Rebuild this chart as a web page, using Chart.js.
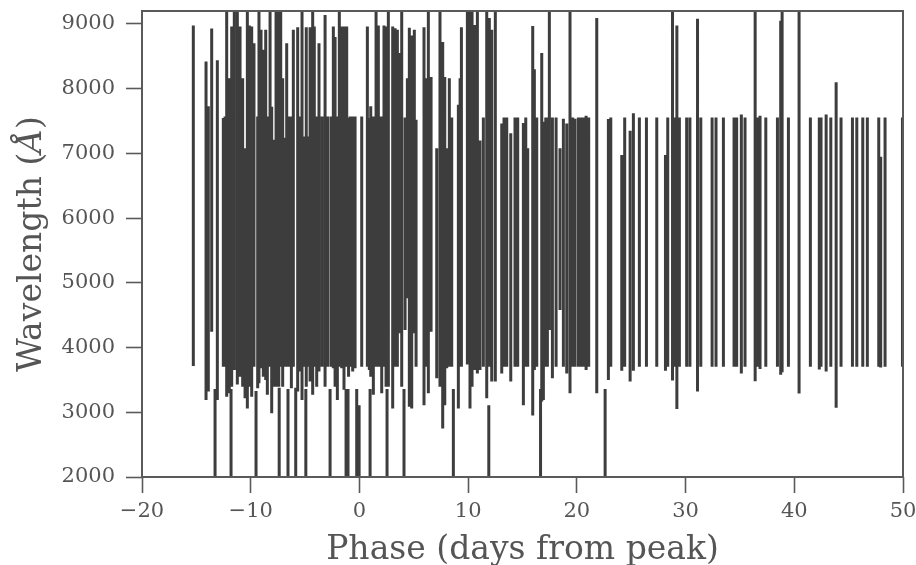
<!DOCTYPE html>
<html>
<head>
<meta charset="utf-8">
<title>Cobertura espectral</title>
<script src="https://cdn.jsdelivr.net/npm/chart.js@4.4.1/dist/chart.umd.min.js"></script>
<style>
  html, body { margin: 0; padding: 0; background: #ffffff; }
  canvas { display: block; }
</style>
</head>
<body>
<canvas id="grafica" width="916" height="565"></canvas>
<script>
// Fase de cada espectro (días desde el máximo)
var fases = [
  -15.28, -14.11, -13.90, -13.59, -13.28, -13.07, -12.52, -12.36, -12.21, -11.97,
  -11.81, -11.75, -11.51, -11.23, -10.98, -10.74, -10.52, -10.31, -10.13, -9.91,
  -9.70, -9.51, -9.36, -9.24, -9.05, -8.84, -8.62, -8.47, -8.22, -8.07,
  -7.86, -7.67, -7.42, -7.38, -7.24, -7.06, -6.94, -6.69, -6.57, -6.45,
  -6.26, -6.08, -5.86, -5.68, -5.46, -5.28, -5.16, -4.93, -4.89, -4.70,
  -4.54, -4.30, -4.15, -3.93, -3.72, -3.44, -3.16, -2.92, -2.70, -2.61,
  -2.40, -2.24, -2.03, -1.85, -1.63, -1.42, -1.23, -1.17, -1.05, -1.00,
  -0.86, -0.62, -0.40, -0.25, -0.03, 0.21, 0.73, 0.91, 0.98, 1.04,
  1.28, 1.53, 1.74, 1.90, 2.05, 2.26, 2.45, 2.54, 2.66, 3.06,
  3.28, 3.49, 3.74, 3.89, 4.10, 4.20, 4.41, 4.59, 4.81, 5.05,
  5.21, 5.94, 6.13, 6.34, 6.59, 7.11, 7.41, 7.66, 7.85, 8.03,
  8.27, 8.49, 8.64, 9.10, 9.26, 9.38, 9.93, 10.17, 10.36, 10.63,
  10.85, 11.09, 11.40, 11.71, 11.90, 11.95, 12.17, 12.50, 13.09, 13.30,
  13.55, 13.92, 14.31, 14.56, 15.08, 15.30, 15.48, 15.94, 16.09, 16.31,
  16.66, 16.77, 16.92, 17.14, 17.29, 17.47, 17.75, 18.09, 18.45, 18.76,
  19.07, 19.37, 19.62, 19.83, 20.14, 20.39, 20.60, 20.85, 21.09, 21.83,
  22.60, 22.90, 23.12, 24.13, 24.40, 24.90, 25.20, 25.75, 26.40, 27.35,
  28.15, 28.36, 28.80, 29.07, 29.20, 29.43, 30.10, 30.40, 31.10, 31.40,
  32.44, 32.80, 33.48, 34.46, 34.70, 35.13, 35.47, 36.40, 36.58, 36.85,
  37.38, 38.45, 38.75, 38.88, 39.46, 40.44, 41.48, 42.30, 42.46, 42.93,
  43.36, 43.85, 44.30, 45.35, 45.75, 46.30, 46.72, 47.77, 47.95, 48.35, 49.95
];

// Longitud de onda mínima de cada espectro (Å)
var longMin = [
  3715, 3190, 3320, 4245, 1600, 3190, 3705, 3705, 3240, 3295,
  1600, 3395, 3655, 3430, 3550, 3395, 3215, 3060, 3395, 3240,
  3705, 1600, 3370, 3450, 3680, 3550, 3500, 3270, 3705, 2985,
  3395, 3395, 3395, 1600, 3705, 3395, 3705, 3705, 1600, 3705,
  3370, 3705, 1600, 3320, 3630, 3190, 3705, 1600, 3395, 3705,
  3475, 3270, 3705, 3395, 3630, 3705, 3395, 3705, 1600, 3705,
  3680, 3395, 3190, 3705, 3680, 3350, 1600, 3705, 1600, 3550,
  3705, 3630, 3680, 1600, 1600, 3705, 3705, 3655, 1600, 3550,
  3270, 3705, 3705, 3705, 3295, 3705, 3395, 1600, 3395, 3060,
  3705, 3705, 4220, 3395, 1600, 4270, 4760, 3085, 3060, 4220,
  3705, 3110, 3705, 3295, 4245, 3525, 3395, 2750, 3110, 3680,
  3705, 3705, 1600, 3060, 3705, 3705, 3740, 3060, 3395, 3655,
  3600, 3655, 3705, 3215, 1600, 3705, 3475, 3475, 3600, 3705,
  3705, 3475, 3705, 3705, 3110, 3705, 3705, 2950, 3655, 3705,
  1600, 3165, 3190, 3705, 3705, 4270, 3525, 3705, 4580, 3705,
  3600, 3295, 3705, 3705, 3705, 3705, 3705, 3655, 3705, 3295,
  1600, 3500, 3705, 3640, 3705, 3475, 3640, 3705, 3705, 3705,
  3640, 3705, 3490, 3705, 3050, 3705, 3705, 3705, 3320, 3705,
  3705, 3705, 3705, 3705, 3705, 3600, 3705, 3480, 3705, 3670,
  3705, 3705, 3580, 3620, 3705, 3290, 3705, 3660, 3705, 3630,
  3705, 3070, 3705, 3705, 3705, 3705, 3705, 3705, 3690, 3705, 3705
];

// Longitud de onda máxima de cada espectro (Å)
var longMax = [
  8975, 8420, 7730, 8930, 3360, 8440, 7545, 7570, 9800, 8160,
  3360, 8960, 9800, 9800, 8960, 8160, 7080, 9800, 8975, 8960,
  8700, 3330, 7570, 9800, 8910, 8600, 8910, 7570, 9800, 7720,
  7210, 9800, 9800, 3380, 9800, 8160, 7240, 8700, 3360, 7570,
  7570, 8910, 3380, 8950, 7570, 9800, 7260, 3360, 8950, 7260,
  8950, 9800, 8960, 7570, 8700, 7570, 9140, 7570, 3360, 7570,
  8960, 8800, 7570, 9800, 8960, 8960, 3360, 8960, 3360, 7545,
  7570, 7570, 7570, 3360, 3110, 7570, 8960, 7545, 3360, 7730,
  7570, 9800, 8975, 7570, 7570, 8975, 8960, 3360, 9800, 8960,
  8935, 8910, 8550, 9800, 3360, 7555, 8160, 8940, 8820, 8910,
  7520, 8950, 8160, 9800, 8180, 7080, 9800, 8720, 8180, 7080,
  8160, 7555, 3360, 7750, 8160, 8950, 9800, 9800, 9800, 8985,
  9800, 7200, 7555, 9800, 3110, 9090, 8910, 9800, 7460, 7555,
  7555, 7310, 7555, 7555, 7470, 7555, 7080, 8970, 8300, 7555,
  3360, 8550, 7490, 7555, 7555, 9800, 7555, 7555, 7080, 7535,
  7460, 9800, 7555, 7535, 7555, 7555, 7555, 7580, 7555, 9090,
  3360, 7530, 7555, 6975, 7555, 7350, 7620, 7555, 7555, 7555,
  6975, 7555, 9800, 7555, 8975, 7555, 7555, 7555, 9080, 7555,
  7555, 7555, 7555, 7555, 7555, 7600, 7555, 9800, 7555, 7580,
  7555, 7555, 9050, 9800, 7555, 9800, 7555, 7555, 7555, 7600,
  7555, 8100, 7555, 7555, 7555, 7555, 7555, 7555, 6950, 7555, 7555
];

// Marcas de los ejes
var marcasX = [-20, -10, 0, 10, 20, 30, 40, 50];
var marcasY = [2000, 3000, 4000, 5000, 6000, 7000, 8000, 9000];

var colorTexto = '#555555';
var colorEje = '#5a5a5a';
var fuente = 'DejaVu Serif';

// Cada espectro es un segmento vertical; un punto nulo corta la línea
function construirSegmentos() {
  var puntos = [];
  for (var i = 0; i < fases.length; i++) {
    puntos.push({ x: fases[i], y: longMin[i] });
    puntos.push({ x: fases[i], y: longMax[i] });
    puntos.push({ x: fases[i], y: null });
  }
  return puntos;
}

// Marco alrededor del área de la gráfica y título del eje Y (con Å en cursiva)
var marco = {
  id: 'marco',
  afterDraw: function(chart) {
    var a = chart.chartArea;
    var ctx = chart.ctx;
    ctx.save();
    ctx.strokeStyle = colorEje;
    ctx.lineWidth = 2;
    ctx.strokeRect(a.left, a.top, a.right - a.left, a.bottom - a.top);
    ctx.restore();

    var partes = [
      ['Wavelength (', 'normal'],
      ['Å', 'italic'],
      [')', 'normal']
    ];
    ctx.save();
    ctx.translate(chart.scales.y.left + 32, (a.top + a.bottom) / 2);
    ctx.rotate(-Math.PI / 2);
    ctx.fillStyle = colorTexto;
    ctx.textBaseline = 'middle';
    ctx.textAlign = 'left';
    var total = 0;
    partes.forEach(function(p) {
      ctx.font = p[1] + ' 33px "' + fuente + '"';
      total += ctx.measureText(p[0]).width;
    });
    var xx = -total / 2;
    partes.forEach(function(p) {
      ctx.font = p[1] + ' 33px "' + fuente + '"';
      ctx.fillText(p[0], xx, 0);
      xx += ctx.measureText(p[0]).width;
    });
    ctx.restore();
  }
};

function marcasFijas(lista) {
  return function(eje) {
    eje.ticks = lista.map(function(v) { return { value: v }; });
  };
}

var ctx = document.getElementById('grafica').getContext('2d');
new Chart(ctx, {
  type: 'line',
  data: {
    datasets: [{
      data: construirSegmentos(),
      borderColor: '#3d3d3d',
      borderWidth: 3,
      pointRadius: 0,
      spanGaps: false,
      tension: 0
    }]
  },
  options: {
    responsive: false,
    animation: false,
    devicePixelRatio: 1,
    layout: { padding: 0 },
    plugins: {
      legend: { display: false },
      tooltip: { enabled: false }
    },
    scales: {
      x: {
        type: 'linear',
        min: -20,
        max: 50,
        afterBuildTicks: marcasFijas(marcasX),
        // alto fijo del eje y márgenes laterales fijos
        afterFit: function(eje) {
          eje.height = 88;
          eje.paddingLeft = 0;
          eje.paddingRight = 13;
        },
        border: { display: false },
        grid: {
          drawOnChartArea: false,
          drawTicks: true,
          tickLength: 16,
          tickWidth: 1.6,
          tickColor: colorEje
        },
        ticks: {
          padding: 8,
          color: colorTexto,
          maxRotation: 0,
          autoSkip: false,
          font: { family: fuente, size: 21, lineHeight: 1.05 },
          callback: function(v) { return String(v).replace('-', '\u2212'); }
        },
        title: {
          display: true,
          text: 'Phase (days from peak)',
          color: colorTexto,
          padding: 0,
          font: { family: fuente, size: 33, lineHeight: 0.9 }
        }
      },
      y: {
        min: 2000,
        max: 9200,
        afterBuildTicks: marcasFijas(marcasY),
        afterFit: function(eje) {
          eje.width = 142;
          eje.paddingTop = 11;
          eje.paddingBottom = 0;
        },
        border: { display: false },
        grid: {
          drawOnChartArea: false,
          drawTicks: true,
          tickLength: 16,
          tickWidth: 1.6,
          tickColor: colorEje
        },
        ticks: {
          padding: 11,
          color: colorTexto,
          font: { family: fuente, size: 21, lineHeight: 1.05 },
          callback: function(v) { return String(v); }
        },
        title: { display: false }
      }
    }
  },
  plugins: [marco]
});
</script>
</body>
</html>
